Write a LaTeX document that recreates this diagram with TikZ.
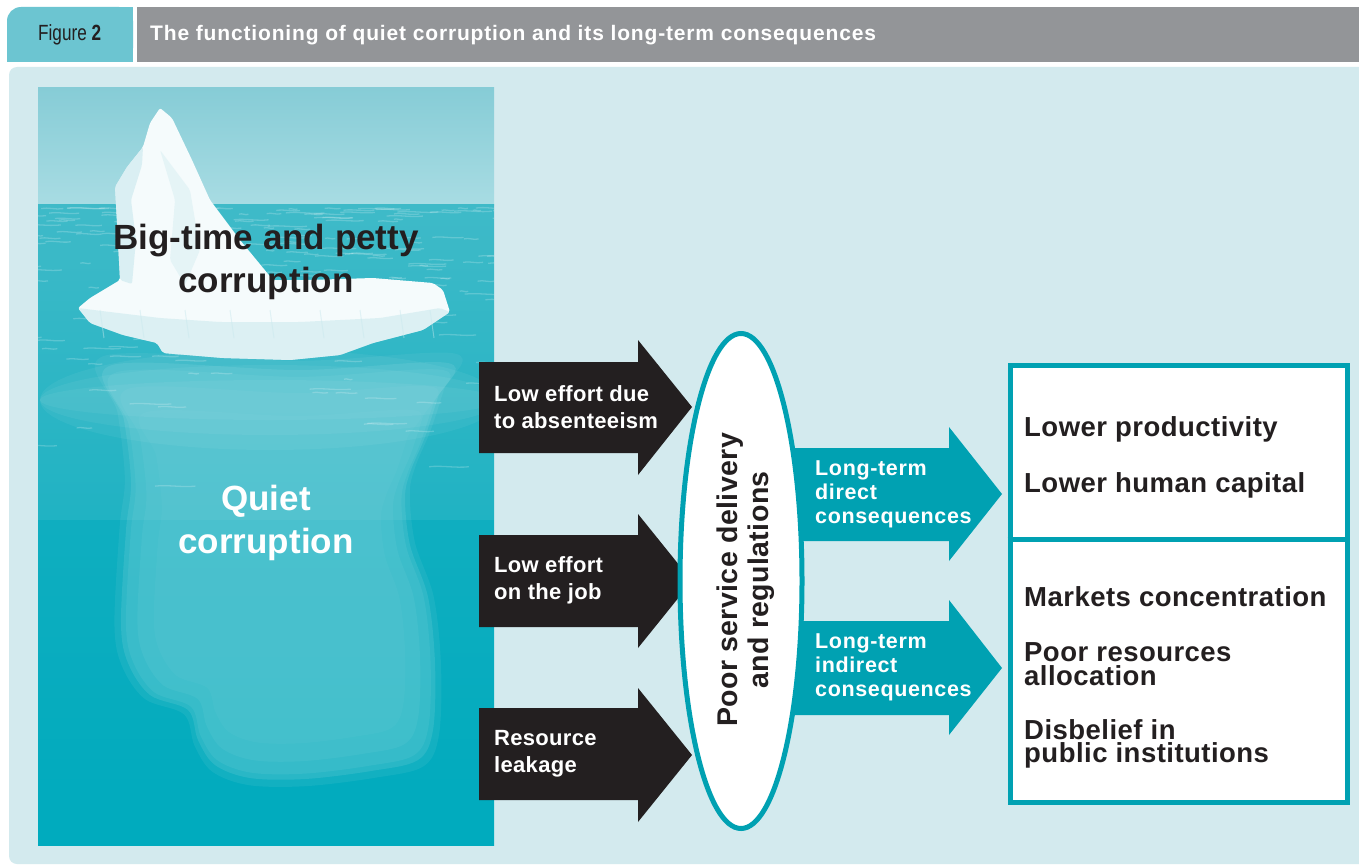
\documentclass[tikz,border=0pt]{standalone}
\usepackage{fontspec}
\setmainfont{Liberation Sans}
\newfontfamily\narrowfont[FakeStretch=0.78]{Liberation Sans}
\newfontfamily\titlefont[LetterSpace=4]{Liberation Sans}
\newfontfamily\spacedA[LetterSpace=1.4]{Liberation Sans}
\newfontfamily\spacedB[LetterSpace=3]{Liberation Sans}
\newfontfamily\spacedC[LetterSpace=1.7]{Liberation Sans}
\usetikzlibrary{shapes.geometric}
\definecolor{tealA}{HTML}{00A1B2}
\definecolor{tabteal}{HTML}{6CC5D1}
\definecolor{hdrgray}{HTML}{939598}
\definecolor{panelblue}{HTML}{D3EAEE}
\definecolor{inkblack}{HTML}{231F20}
\definecolor{skyTop}{HTML}{86CCD6}
\definecolor{skyBot}{HTML}{A8DCE3}
\definecolor{waterTop}{HTML}{3FBAC8}
\definecolor{waterMid}{HTML}{0EB0C2}
\definecolor{waterDeep}{HTML}{00ABBE}
\definecolor{subice}{HTML}{86D6DE}
\definecolor{iceWhite}{HTML}{F5FBFC}
\definecolor{iceShade}{HTML}{C8E8ED}
\tikzset{
  blacklabel/.style={text=white, font=\spacedA\fontsize{22}{27}\selectfont\bfseries, align=left, anchor=west, inner sep=0pt},
  teallabel/.style={text=white, font=\spacedB\fontsize{21.5}{24}\selectfont\bfseries, align=left, anchor=west, inner sep=0pt},
  boxitem/.style={text=inkblack, font=\spacedC\fontsize{27.5}{23.5}\selectfont\bfseries, align=left, anchor=west, inner sep=0pt},
  bigtext/.style={font=\fontsize{35}{43}\selectfont\bfseries, align=center, inner sep=0pt},
  blackarrow/.style={fill=inkblack},
  tealarrow/.style={fill=tealA},
}
\begin{document}
\begin{tikzpicture}[x=1pt,y=-1pt]
\useasboundingbox (0,0) rectangle (1359,867);
\fill[white] (0,0) rectangle (1359,867);
% header
\fill[tabteal, rounded corners=14pt] (7,62) -- (7,7) -- (133,7) -- (133,62) -- cycle;
\fill[tabteal] (30,7) rectangle (133,62);
\fill[tabteal] (7,30) rectangle (133,62);
\fill[hdrgray] (137,7) rectangle (1359,62);
\node[anchor=west, inner sep=0pt, text=inkblack, font=\narrowfont\fontsize{22}{24}\selectfont] (fig) at (38,35) {Figure \textbf{2}};
\node[anchor=west, inner sep=0pt, text=white, font=\titlefont\fontsize{21}{24}\selectfont\bfseries] (title) at (150,35) {The functioning of quiet corruption and its long-term consequences};
% panel
\fill[panelblue, rounded corners=8pt] (9,67) rectangle (1380,864);
% photo
\begin{scope}
\clip (38,87) rectangle (494,845);
\shade[top color=skyTop, bottom color=skyBot] (38,87) rectangle (494,205);
\shade[top color=waterTop, middle color=waterMid, bottom color=waterDeep] (38,204) rectangle (494,845);
\fill[waterDeep, opacity=0.5] (38,520) rectangle (494,845);
% submerged ice
\foreach \sc/\op in {1.04/0.12, 1.0/0.2, 0.97/0.14, 0.9/0.12, 0.8/0.08}{
  \fill[subice, opacity=\op, scale around={\sc:(285,600)}] plot[smooth cycle, tension=0.55] coordinates {(112,365) (124,420) (131,483) (126,530) (121,623) (128,663) (150,695) (188,710) (198,740) (215,765) (250,778) (305,779) (371,771) (418,760) (433,730) (435,663) (428,597) (410,545) (405,497) (411,470) (425,437) (438,397) (448,363) (300,370)};
}
% light water under the slab (soft)
\foreach \ry in {20,35,50}{
  \fill[white, opacity=0.05] (270,400) ellipse [x radius=230, y radius=\ry];
}
\pgfmathsetseed{11}
\foreach \i in {1,...,230}{
  \pgfmathsetmacro\wx{20+480*rnd}
  \pgfmathsetmacro\wy{208+290*rnd*rnd}
  \pgfmathsetmacro\wl{8+34*rnd}
  \draw[white, opacity=0.2, line width=1.3pt] (\wx,\wy) .. controls (\wx+\wl/3,\wy-1.5) and (\wx+2*\wl/3,\wy+1.5) .. (\wx+\wl,\wy);
}
% iceberg above water
\fill[iceWhite, rounded corners=2pt] (160,108) -- (150,123) -- (143,147) -- (127,167) -- (115,187) -- (117,223) -- (120,280) -- (90,298) -- (78,308) -- (90,323) -- (123,335) -- (157,343) -- (163,353) -- (223,358) -- (290,360) -- (340,355) -- (373,343) -- (423,330) -- (450,312) -- (443,290) -- (433,283) -- (373,278) -- (307,280) -- (273,280) -- (240,240) -- (210,200) -- (192,160) -- (172,118) -- cycle;
\fill[iceShade, opacity=0.6, rounded corners=2pt] (143,147) -- (127,167) -- (115,187) -- (117,223) -- (120,280) -- (132,284) -- (136,240) -- (131,200) -- (142,165) -- cycle;
\fill[iceShade, opacity=0.35, rounded corners=2pt] (160,150) -- (175,200) -- (170,260) -- (185,285) -- (200,250) -- (190,190) -- cycle;
\fill[iceShade, opacity=0.55, rounded corners=2pt] (78,308) -- (90,323) -- (123,335) -- (157,343) -- (163,353) -- (223,358) -- (290,360) -- (340,355) -- (373,343) -- (423,330) -- (450,312) -- (440,308) -- (380,318) -- (300,322) -- (220,322) -- (160,318) -- (110,312) -- cycle;
\foreach \fx in {100,140,185,230,270,320,360,400,430}{
  \draw[iceShade, line width=1pt, opacity=0.45] (\fx,310) -- (\fx+4,338);
}
\end{scope}
\node[bigtext, text=inkblack] (big) at (266,262) {Big-time and petty\\corruption};
\node[bigtext, text=white] (quiet) at (266,523) {Quiet\\corruption};
% black arrows
\fill[blackarrow] (479,362) -- (638,362) -- (638,340) -- (692,407) -- (638,475) -- (638,453) -- (479,453) -- cycle;
\fill[blackarrow] (479,535) -- (638,535) -- (638,514) -- (692,581) -- (638,648) -- (638,627) -- (479,627) -- cycle;
\fill[blackarrow] (479,708) -- (638,708) -- (638,688) -- (692,755) -- (638,822) -- (638,800) -- (479,800) -- cycle;
\node[blacklabel] (a1) at (494,407) {Low effort due\\to absenteeism};
\node[blacklabel] (a2) at (494,580) {Low effort\\on the job};
\node[blacklabel] (a3) at (494,754) {Resource\\leakage};
% teal arrows
\fill[tealarrow] (760,448) -- (949,448) -- (949,427) -- (1002,494) -- (949,561) -- (949,541) -- (760,541) -- cycle;
\fill[tealarrow] (760,621) -- (949,621) -- (949,600) -- (1002,668) -- (949,735) -- (949,715) -- (760,715) -- cycle;
% ellipse
\node[ellipse, draw=tealA, line width=5pt, fill=white, minimum width=122pt, minimum height=495pt, inner sep=0pt] (psd) at (741,581) {};
\node[rotate=90, font=\spacedA\fontsize{28.5}{31}\selectfont\bfseries, text=inkblack, align=center, inner sep=0pt] (psdtext) at (746,580) {Poor service delivery\\and regulations};
\node[teallabel] (t1) at (815,494) {Long-term\\direct\\consequences};
\node[teallabel] (t2) at (815,667) {Long-term\\indirect\\consequences};
% right box
\node[draw=tealA, line width=5pt, fill=white, minimum width=337pt, minimum height=437pt, inner sep=0pt, anchor=north west] (box) at (1007.5,362.5) {};
\draw[tealA, line width=5pt] (box.west |- 0,539) coordinate (dl) -- (box.east |- 0,539) coordinate (dr);
\node[boxitem] (c1) at (1024,429) {Lower productivity};
\node[boxitem] (c2) at (1024,485) {Lower human capital};
\node[boxitem] (c3) at (1024,597) {Markets concentration};
\node[boxitem] (c4) at (1024,664) {Poor resources\\allocation};
\node[boxitem] (c5) at (1024,744) {Disbelief in\\public institutions};
\end{tikzpicture}
\end{document}
